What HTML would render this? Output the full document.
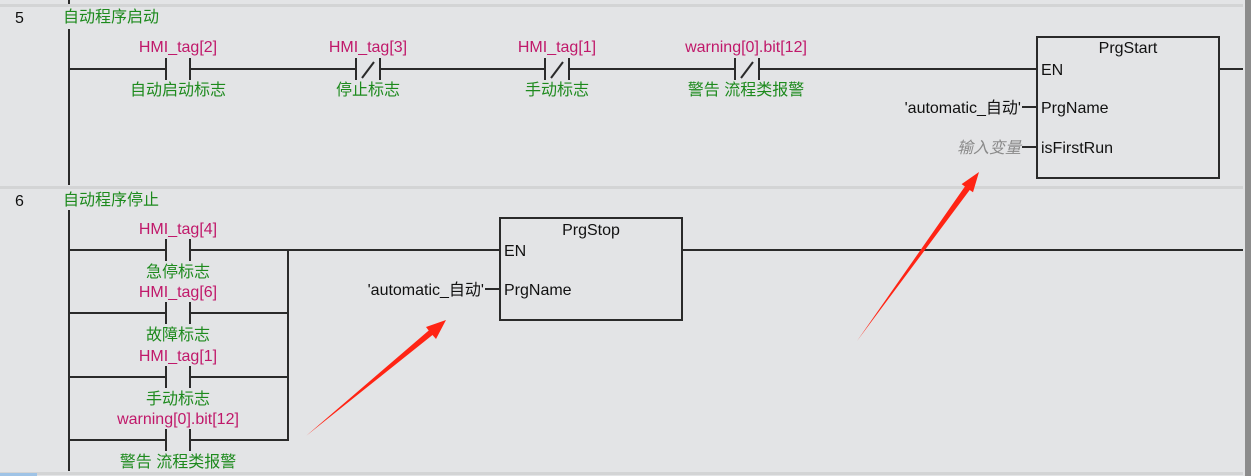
<!DOCTYPE html>
<html><head><meta charset="utf-8"><style>
html,body{margin:0;padding:0;background:#e3e4e6;}
svg{display:block;}
text{font-family:"Liberation Sans","Noto Sans CJK SC",sans-serif;font-size:16px;}
.m{fill:#c0186a;} .g{fill:#1d8a1d;} .k{fill:#111;}
</style></head><body>
<svg width="1251" height="476" viewBox="0 0 1251 476" xmlns="http://www.w3.org/2000/svg">
<rect width="1251" height="476" fill="#e3e4e6"/>
<rect x="1245" y="0" width="6" height="476" fill="#8c8c8c"/>
<rect x="0" y="4" width="1243" height="3" fill="#d3d4d5"/>
<rect x="0" y="186" width="1243" height="3" fill="#d3d4d5"/>
<rect x="0" y="472" width="1243" height="3" fill="#d3d4d5"/>
<rect x="0" y="473" width="37" height="3" fill="#9fc3e6"/>
<g stroke="#2a2a2a" stroke-width="2" fill="none">
<line x1="69" y1="0" x2="69" y2="4"/>
<line x1="69" y1="29" x2="69" y2="185"/>
<line x1="69" y1="69" x2="166" y2="69"/>
<line x1="166" y1="58" x2="166" y2="80"/><line x1="190" y1="58" x2="190" y2="80"/>
<line x1="190" y1="69" x2="356" y2="69"/>
<line x1="356" y1="58" x2="356" y2="80"/><line x1="380" y1="58" x2="380" y2="80"/><line x1="362" y1="78" x2="374" y2="62"/>
<line x1="380" y1="69" x2="545" y2="69"/>
<line x1="545" y1="58" x2="545" y2="80"/><line x1="569" y1="58" x2="569" y2="80"/><line x1="551" y1="78" x2="563" y2="62"/>
<line x1="569" y1="69" x2="735" y2="69"/>
<line x1="735" y1="58" x2="735" y2="80"/><line x1="759" y1="58" x2="759" y2="80"/><line x1="741" y1="78" x2="753" y2="62"/>
<line x1="759" y1="69" x2="1037" y2="69"/>
<rect x="1037" y="37" width="182" height="141"/>
<line x1="1219" y1="69" x2="1243" y2="69"/>
<line x1="1022" y1="107" x2="1037" y2="107"/>
<line x1="1022" y1="147" x2="1037" y2="147"/>
<line x1="69" y1="210" x2="69" y2="471"/>
<line x1="69" y1="250" x2="166" y2="250"/><line x1="190" y1="250" x2="500" y2="250"/>
<line x1="69" y1="313" x2="166" y2="313"/><line x1="190" y1="313" x2="288" y2="313"/>
<line x1="69" y1="377" x2="166" y2="377"/><line x1="190" y1="377" x2="288" y2="377"/>
<line x1="69" y1="440" x2="166" y2="440"/><line x1="190" y1="440" x2="288" y2="440"/>
<line x1="288" y1="250" x2="288" y2="441"/>
<line x1="166" y1="239" x2="166" y2="261"/><line x1="190" y1="239" x2="190" y2="261"/>
<line x1="166" y1="302" x2="166" y2="324"/><line x1="190" y1="302" x2="190" y2="324"/>
<line x1="166" y1="366" x2="166" y2="388"/><line x1="190" y1="366" x2="190" y2="388"/>
<line x1="166" y1="429" x2="166" y2="451"/><line x1="190" y1="429" x2="190" y2="451"/>
<rect x="500" y="218" width="182" height="102"/>
<line x1="485" y1="289" x2="500" y2="289"/>
<line x1="682" y1="250" x2="1243" y2="250"/>
</g>
<text x="15" y="23" class="k">5</text>
<text x="63" y="22" class="g">自动程序启动</text>
<text x="178" y="52" class="m" text-anchor="middle">HMI_tag[2]</text>
<text x="178" y="95" class="g" text-anchor="middle">自动启动标志</text>
<text x="368" y="52" class="m" text-anchor="middle">HMI_tag[3]</text>
<text x="368" y="95" class="g" text-anchor="middle">停止标志</text>
<text x="557" y="52" class="m" text-anchor="middle">HMI_tag[1]</text>
<text x="557" y="95" class="g" text-anchor="middle">手动标志</text>
<text x="746" y="52" class="m" text-anchor="middle">warning[0].bit[12]</text>
<text x="746" y="95" class="g" text-anchor="middle">警告 流程类报警</text>
<text x="1128" y="53" class="k" text-anchor="middle">PrgStart</text>
<text x="1041" y="75" class="k">EN</text>
<text x="1041" y="113" class="k">PrgName</text>
<text x="1041" y="153" class="k">isFirstRun</text>
<text x="1021" y="113" class="k" text-anchor="end">'automatic_自动'</text>
<text x="1021" y="153" fill="#8a8a8a" font-style="italic" text-anchor="end">输入变量</text>
<text x="15" y="206" class="k">6</text>
<text x="63" y="205" class="g">自动程序停止</text>
<text x="178" y="234" class="m" text-anchor="middle">HMI_tag[4]</text>
<text x="178" y="277" class="g" text-anchor="middle">急停标志</text>
<text x="178" y="297" class="m" text-anchor="middle">HMI_tag[6]</text>
<text x="178" y="340" class="g" text-anchor="middle">故障标志</text>
<text x="178" y="361" class="m" text-anchor="middle">HMI_tag[1]</text>
<text x="178" y="404" class="g" text-anchor="middle">手动标志</text>
<text x="178" y="424" class="m" text-anchor="middle">warning[0].bit[12]</text>
<text x="178" y="467" class="g" text-anchor="middle">警告 流程类报警</text>
<text x="591" y="235" class="k" text-anchor="middle">PrgStop</text>
<text x="504" y="256" class="k">EN</text>
<text x="504" y="295" class="k">PrgName</text>
<text x="484" y="295" class="k" text-anchor="end">'automatic_自动'</text>
<polygon points="306,436 428.7,330.5 426,327 446,320 436,339 432.5,335" fill="#ff2414"/>
<polygon points="857,341 964.9,186.5 961.6,184.1 979,172 973,192.3 969.7,190" fill="#ff2414"/>
</svg>
</body></html>
